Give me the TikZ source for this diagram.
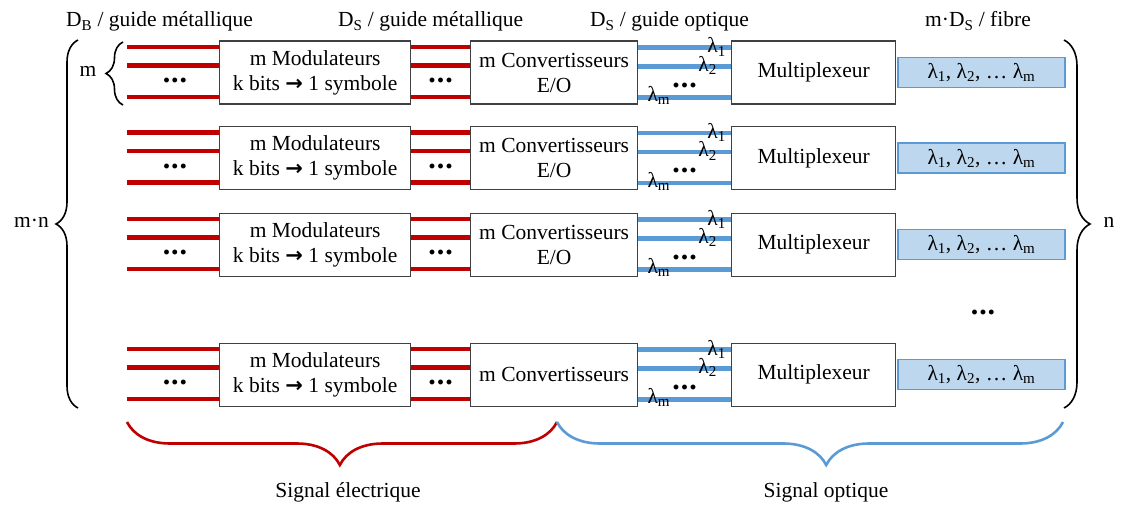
\documentclass[tikz,border=0pt]{standalone}
\usepackage{fontspec}
\setmainfont{Liberation Serif}
\newfontfamily\arrowfont{DejaVu Sans}
\usetikzlibrary{decorations.pathreplacing,calc}
\definecolor{elred}{HTML}{C00000}
\definecolor{opblue}{HTML}{5B9BD5}
\definecolor{fibfill}{HTML}{BDD7EE}
\definecolor{boxgray}{HTML}{404040}
\newcommand{\bigf}{\fontsize{21.5}{25}\selectfont}
\newcommand{\karrow}{{\arrowfont\bfseries\fontsize{21}{20}\selectfont →}}
\newcommand{\threedots}{{\fontsize{30}{30}\selectfont\bfseries .\kern1pt.\kern1pt.}}
\begin{document}
\begin{tikzpicture}[x=1pt,y=-1pt,
  every node/.style={font=\bigf, inner sep=0pt, text=black},
  blk/.style={draw=boxgray, line width=1.3pt, fill=white, minimum height=63, anchor=north west, align=center},
  fib/.style={draw=opblue, line width=1.3pt, fill=fibfill, minimum height=30, minimum width=167, anchor=west},
  redline/.style={elred, line width=4.5pt},
  blueline/.style={opblue, line width=4.5pt},
  bbrace/.style={decorate, decoration={brace, amplitude=#1}, line width=1.6pt},
  cbrace/.style 2 args={decorate, decoration={brace, amplitude=#1, aspect=#2}, line width=2.6pt}
]
\useasboundingbox (0,0) rectangle (1126,505);

% headers
\node[anchor=base west] (h1) at (66,27) {D\textsubscript{B} / guide métallique};
\node[anchor=base west] (h2) at (338,27) {D\textsubscript{S} / guide métallique};
\node[anchor=base west] (h3) at (590,27) {D\textsubscript{S} / guide optique};
\node[anchor=base west] (h4) at (925,27) {m·D\textsubscript{S} / fibre};

\foreach \r/\t/\conv in {1/40.5/{m Convertisseurs\\E/O}, 2/126/{m Convertisseurs\\E/O}, 3/212.5/{m Convertisseurs\\E/O}, 4/342.5/{m Convertisseurs}} {
  \node[blk, minimum width=191] (mod\r) at (219,\t) {m Modulateurs\\k bits \karrow{} 1 symbole};
  \node[blk, minimum width=167] (conv\r) at (470,\t) {\conv};
  \node[blk, minimum width=164] (mux\r) at (731,\t) {Multiplexeur};
  \node[fib] (fib\r) at ($(mux\r.east)+(1,0)$) {λ\textsubscript{1}, λ\textsubscript{2}, … λ\textsubscript{m}};
  % red input lines
  \foreach \k/\dy in {a/6.5,b/25,c/56.5} {
    \coordinate (in\r\k) at ($(mod\r.north west)+(-92,\dy)$);
    \draw[redline] (in\r\k) -- ($(mod\r.north west)+(0,\dy)$);
    \draw[redline] ($(mod\r.north east)+(0,\dy)$) -- ($(conv\r.north west)+(0,\dy)$);
  }
  \foreach \dy in {7,26,57} {
    \draw[blueline] ($(conv\r.north east)+(0,\dy)$) -- ($(mux\r.north west)+(0,\dy)$);
  }
  \node[anchor=base] (d1\r) at ($(mod\r.north west)+(-44,42)$) {\threedots};
  \node[anchor=base] (d2\r) at ($(mod\r.north east)!0.5!(conv\r.north west)+(0,42)$) {\threedots};
  \node[anchor=base] (d3\r) at ($(conv\r.north east)!0.5!(mux\r.north west)+(0,47)$) {\threedots};
  \node[anchor=base east] (l1\r) at ($(mux\r.north west)+(-5,12.5)$) {λ\textsubscript{1}};
  \node[anchor=base east] (l2\r) at ($(mux\r.north west)+(-14,31)$) {λ\textsubscript{2}};
  \node[anchor=base west] (lm\r) at ($(conv\r.north east)+(9,61)$) {λ\textsubscript{m}};
}

\node[anchor=base] (dr) at (983,314) {\threedots};

% braces
\draw[bbrace=22] (78,408) -- (78,40);
\node[anchor=east] (mn) at (49,222) {m·n};
\draw[bbrace=17] (123,105) -- (123,42);
\node (mm) at (88,71) {m};
\draw[bbrace=26] (1064,40) -- (1064,408);
\node (nn) at (1109,222) {n};

\draw[cbrace={43}{0.505}, elred] (557,422) -- (127,422);
\draw[cbrace={43}{0.468}, opblue] (1063,422) -- (557,422);
\node[anchor=base] (se) at (348,497) {Signal électrique};
\node[anchor=base] (so) at (826,497) {Signal optique};
\end{tikzpicture}
\end{document}
